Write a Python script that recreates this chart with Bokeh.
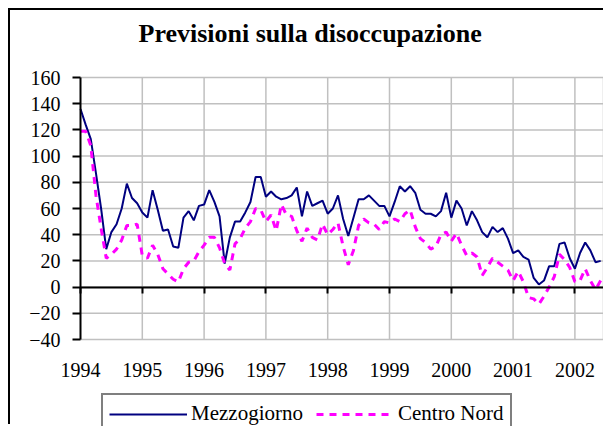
from bokeh.plotting import figure
from bokeh.models import Range1d, FixedTicker, LinearAxis, Legend, LegendItem, ColumnDataSource, Title
from bokeh.embed import file_html
from bokeh.resources import INLINE

chart_title = "Previsioni sulla disoccupazione"
series_names = ["Mezzogiorno", "Centro Nord"]
years = [1994, 1995, 1996, 1997, 1998, 1999, 2000, 2001, 2002]
y_ticks = [-40, -20, 0, 20, 40, 60, 80, 100, 120, 140, 160]

# monthly values, January 1994 onwards
mezzogiorno = [
    136, 124, 113, 87, 60, 29, 42, 48, 60, 79, 68, 64,
    57, 53, 74, 59, 43, 44, 31, 30, 53, 58, 51, 62,
    63, 74, 65, 54, 18, 38, 50, 50, 57, 65, 84, 84,
    69, 73, 69, 67, 68, 70, 76, 54, 73, 62, 64, 66,
    56, 60, 70, 52, 39, 53, 67, 67, 70, 66, 62, 62,
    54, 65, 77, 73, 77, 72, 59, 56, 56, 54, 58, 72,
    53, 66, 60, 47, 58, 51, 42, 38, 46, 42, 45, 37,
    26, 28, 23, 21, 7, 2, 5, 16, 16, 33, 34, 22,
    14, 26, 34, 28, 19, 20,
]
centro_nord = [
    119, 119, 108, 70, 45, 22, 25, 29, 36, 47, 47, 48,
    24, 22, 32, 25, 14, 10, 6, 4, 14, 19, 20, 27,
    32, 38, 38, 30, 18, 13, 33, 37, 45, 50, 60, 59,
    50, 55, 43, 63, 55, 54, 43, 35, 45, 38, 36, 48,
    40, 44, 49, 31, 17, 28, 47, 52, 49, 48, 44, 50,
    49, 52, 50, 56, 59, 46, 37, 34, 29, 31, 40, 42,
    35, 41, 32, 24, 26, 23, 9, 15, 22, 19, 16, 13,
    5, 12, 4, -8, -9, -13, -7, 0, 8, 25, 21, 15,
    4, 5, 14, 5, -2, 5,
]

start_year = years[0]
months = [start_year + k / 12 for k in range(len(mezzogiorno))]
src = ColumnDataSource(dict(x=months, m=mezzogiorno, c=centro_nord))

FONT = "Liberation Serif"
GRID = "#c0c0c0"
Y_LOW, Y_HIGH = min(y_ticks), max(y_ticks)

# The plotting frame covers the whole canvas except the title band, so that
# tick labels and the legend (which sit outside the -40..160 chart area) are
# drawn inside it; the chart area itself spans start_year..X_END, -40..160.
PX_PER_YEAR = 61.8
PX_PER_UNIT = 1.31
X_START = start_year - 70 / PX_PER_YEAR
X_END = start_year + 523 / PX_PER_YEAR
Y_VIEW_HIGH = Y_HIGH + 13 / PX_PER_UNIT
Y_VIEW_LOW = Y_HIGH - 349 / PX_PER_UNIT

p = figure(width=595, height=416, output_backend="svg", toolbar_location=None,
           x_range=Range1d(X_START, X_END), y_range=Range1d(Y_VIEW_LOW, Y_VIEW_HIGH),
           min_border_left=0, min_border_right=2, min_border_top=54, min_border_bottom=0,
           title=chart_title, background_fill_color="white", border_fill_color="white")
p.styles = {"margin-left": "8px", "margin-top": "8px",
            "border-left": "2px solid black", "border-top": "2px solid black"}

p.title.text_font = FONT
p.title.text_font_size = "26px"
p.title.text_font_style = "bold"
p.title.text_color = "black"
p.title.align = "left"
p.title.offset = 128
p.title.standoff = 0
p.title.vertical_align = "bottom"

# blank spacer between the title and the plot area
p.add_layout(Title(text=" ", text_font_size="10px", standoff=4), "above")

# year labels under the -40 line
p.xaxis.fixed_location = Y_LOW
p.xaxis.ticker = FixedTicker(ticks=years)
p.xaxis.axis_line_color = None
p.xaxis.major_tick_line_color = None
p.xaxis.minor_tick_line_color = None
p.xaxis.major_tick_out = 0
p.xaxis.major_tick_in = 0
p.xaxis.major_label_standoff = 23
p.xaxis.major_label_text_font = FONT
p.xaxis.major_label_text_font_size = "20px"
p.xaxis.major_label_text_color = "black"

# value axis at the start of 1994
p.yaxis.fixed_location = start_year
p.yaxis.ticker = FixedTicker(ticks=y_ticks)
p.yaxis.bounds = (Y_LOW, Y_HIGH)
p.yaxis.axis_line_color = "black"
p.yaxis.axis_line_width = 2
p.yaxis.major_tick_line_color = "black"
p.yaxis.major_tick_line_width = 2
p.yaxis.major_tick_out = 8
p.yaxis.major_tick_in = 0
p.yaxis.minor_tick_line_color = None
p.yaxis.major_label_standoff = 12
p.yaxis.major_label_text_font = FONT
p.yaxis.major_label_text_font_size = "20px"
p.yaxis.major_label_text_color = "black"

p.xgrid.visible = False
p.ygrid.visible = False
p.outline_line_color = None

# grid of the chart area, limited to start_year..X_END and -40..160
n_y = len(y_ticks)
p.segment(x0=[start_year] * n_y, y0=y_ticks, x1=[X_END] * n_y, y1=y_ticks,
          line_color=GRID, line_width=1.5)
grid_x = years[1:] + [X_END]
p.segment(x0=grid_x, y0=[Y_LOW] * len(grid_x), x1=grid_x, y1=[Y_HIGH] * len(grid_x),
          line_color=GRID, line_width=1.5)

# axis line crossing at zero, with year ticks
zero_axis = LinearAxis(fixed_location=0, bounds=(start_year, X_END),
                       ticker=FixedTicker(ticks=years),
                       axis_line_color="black", axis_line_width=2,
                       major_tick_line_color="black", major_tick_line_width=2,
                       major_tick_out=6, major_tick_in=0, minor_tick_line_color=None,
                       major_label_text_font_size="0px", major_label_text_color=None)
p.add_layout(zero_axis, "below")

r1 = p.line(x="x", y="m", source=src, line_color="#000080", line_width=2)
r2 = p.line(x="x", y="c", source=src, line_color="#FF00FF", line_width=3, line_dash="7 6")

legend = Legend(items=[LegendItem(label=series_names[0], renderers=[r1]),
                       LegendItem(label=series_names[1], renderers=[r2])],
                orientation="horizontal", location=(91, -8),
                border_line_color="black", border_line_width=2,
                background_fill_color="white", background_fill_alpha=1,
                padding=6, margin=0, spacing=13, label_standoff=4,
                glyph_width=78, glyph_height=20, label_height=20,
                label_text_font=FONT, label_text_font_size="21px", label_text_color="black")
p.add_layout(legend)

open("out.html", "w").write(file_html(p, INLINE))
